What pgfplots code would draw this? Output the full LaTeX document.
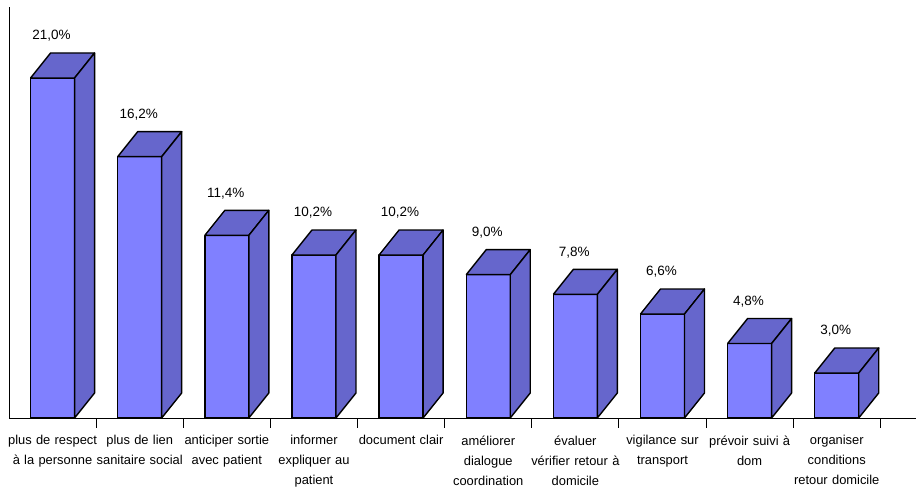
\documentclass[border=0pt]{standalone}
\usepackage{fontspec}
\setmainfont{Liberation Sans}
\usepackage{pgfplots}
\pgfplotsset{compat=1.18}
\usepackage{pgfplotstable}

\definecolor{barfront}{HTML}{8080FF}
\definecolor{barshade}{HTML}{6666CC}

% share of answers per suggestion (%)
\pgfplotstableread{
idx v
0 21.0
1 16.2
2 11.4
3 10.2
4 10.2
5 9.0
6 7.8
7 6.6
8 4.8
9 3.0
}\shares

% cuboid geometry in axis units: half front width, depth offsets, floor level
\def\cubhw{0.2525}
\def\cubdx{0.2295}
\def\cubdy{1.5253}
\def\cubbase{0.256}

\pgfplotsset{cubeface/.style={draw=black, line width=1.4pt, line join=round, mark=none}}

\begin{document}
\begin{tikzpicture}
\path[use as bounding box] (-9pt,-71pt) rectangle (910pt,418pt);
\begin{axis}[
  at={(0pt,0pt)}, anchor=south west,
  x=87.13pt, y=16.39pt,
  xmin=-0.5, xmax=9.91,
  ymin=0.256, ymax=25.332,
  axis x line*=bottom, axis y line*=left,
  axis line style={black, line width=0.9pt},
  ytick=\empty,
  xtick={0,...,9},
  xticklabels={
    {plus de respect\\à la personne},
    {plus de lien\\sanitaire social},
    {anticiper sortie\\avec patient},
    {informer\\expliquer au\\patient},
    {document clair},
    {améliorer\\dialogue\\coordination},
    {évaluer\\vérifier retour à\\domicile},
    {vigilance sur\\transport},
    {prévoir suivi à\\dom},
    {organiser\\conditions\\retour domicile}},
  major tick length=0pt,
  xticklabel style={font=\fontsize{12.9}{20}\selectfont, text width=94pt,
    align=center, yshift=-14pt},
  extra x ticks={0.5,1.5,...,9.5},
  extra x tick labels={},
  extra x tick style={major tick length=10pt, tick align=outside,
    tick style={black, line width=0.9pt}},
  clip=false,
  /pgf/number format/assume math mode=true,
]
% one cuboid per row: front face, top face, right side face
\pgfplotsinvokeforeach{0,...,9}{
  \pgfplotstablegetelem{#1}{v}\of\shares
  \pgfmathsetmacro\cubtop{\pgfplotsretval}
  \pgfmathsetmacro\cubxl{#1-\cubhw}
  \pgfmathsetmacro\cubxr{#1+\cubhw}
  \pgfmathsetmacro\cubxlb{#1-\cubhw+\cubdx}
  \pgfmathsetmacro\cubxrb{#1+\cubhw+\cubdx}
  \pgfmathsetmacro\cubtopb{\cubtop+\cubdy}
  \pgfmathsetmacro\cubbaseb{\cubbase+\cubdy}
  \edef\cubplots{%
    \noexpand\addplot[cubeface, fill=barfront] coordinates
      {(\cubxl,\cubbase) (\cubxr,\cubbase) (\cubxr,\cubtop) (\cubxl,\cubtop) (\cubxl,\cubbase)};
    \noexpand\addplot[cubeface, fill=barshade] coordinates
      {(\cubxl,\cubtop) (\cubxr,\cubtop) (\cubxrb,\cubtopb) (\cubxlb,\cubtopb) (\cubxl,\cubtop)};
    \noexpand\addplot[cubeface, fill=barshade] coordinates
      {(\cubxr,\cubbase) (\cubxrb,\cubbaseb) (\cubxrb,\cubtopb) (\cubxr,\cubtop) (\cubxr,\cubbase)};
  }%
  \cubplots
}
% value labels above the bars
\addplot[
  draw=none, mark=none,
  nodes near coords={\pgfmathprintnumber[fixed, fixed zerofill, precision=1, use comma]{\pgfplotspointmeta}\%},
  nodes near coords style={anchor=center, yshift=42pt, xshift=-1pt,
    font=\fontsize{13.5}{16}\selectfont, text=black},
] table[x=idx, y=v] {\shares};
\end{axis}
\end{tikzpicture}
\end{document}
